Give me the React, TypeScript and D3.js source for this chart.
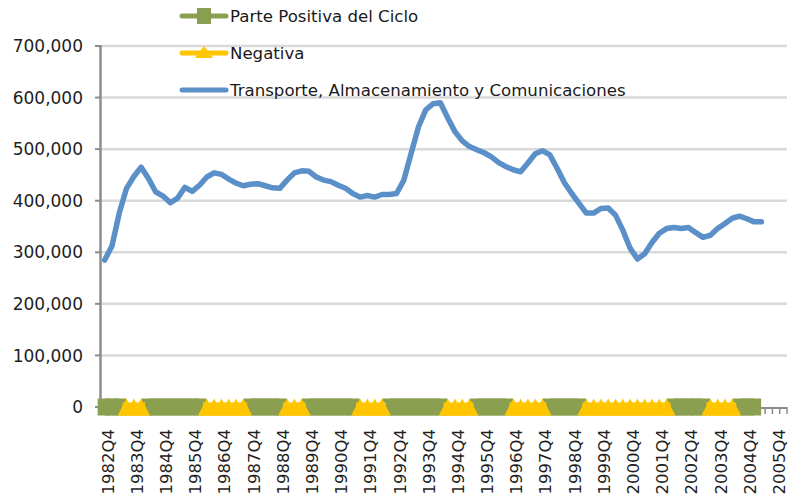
import React, { useEffect, useRef } from 'react';
import * as d3 from 'd3';

// quarters on the category axis: 1982Q4 ... 2006Q1
const startYear = 1982;
const quarterCount = 94;
const categories: string[] = [];
for (let i = 0; i < quarterCount; i++) {
    const q = (3 + i) % 4 + 1;
    const y = startYear + Math.floor((3 + i) / 4);
    categories.push(y + 'Q' + q);
}

const xTickLabels = [
    '1982Q4', '1983Q4', '1984Q4', '1985Q4', '1986Q4', '1987Q4', '1988Q4', '1989Q4',
    '1990Q4', '1991Q4', '1992Q4', '1993Q4', '1994Q4', '1995Q4', '1996Q4', '1997Q4',
    '1998Q4', '1999Q4', '2000Q4', '2001Q4', '2002Q4', '2003Q4', '2004Q4', '2005Q4'
];

const yTicks = [0, 100000, 200000, 300000, 400000, 500000, 600000, 700000];

// Transporte, Almacenamiento y Comunicaciones (thousands)
const transporte = [
    285, 312, 376, 424, 447, 465, 443, 417, 409, 396,
    405, 426, 418, 430, 446, 454, 451, 442, 434, 429,
    432, 433, 429, 425, 424, 440, 454, 458, 457, 446,
    440, 437, 430, 424, 414, 407, 410, 407, 412, 412,
    414, 440, 492, 543, 576, 588, 590, 561, 534, 516,
    505, 499, 493, 485, 474, 466, 460, 456, 473, 491,
    497, 489, 463, 435, 414, 395, 376, 376, 385, 386,
    372, 343, 308, 287, 297, 319, 337, 346, 348, 346,
    348, 338, 329, 333, 346, 356, 366, 370, 365, 359,
    359
].map(function(v) { return v * 1000; });

// phase of the cycle per quarter: P = parte positiva, N = negativa
const fase = [
    'P', 'P', 'P', 'N', 'N', 'N', 'P', 'P', 'P', 'P',
    'P', 'P', 'P', 'P', 'N', 'N', 'N', 'N', 'N', 'N',
    'P', 'P', 'P', 'P', 'P', 'N', 'N', 'N', 'P', 'P',
    'P', 'P', 'P', 'P', 'P', 'N', 'N', 'N', 'N', 'P',
    'P', 'P', 'P', 'P', 'P', 'P', 'P', 'N', 'N', 'N',
    'N', 'P', 'P', 'P', 'P', 'P', 'N', 'N', 'N', 'N',
    'N', 'P', 'P', 'P', 'P', 'P', 'N', 'N', 'N', 'N',
    'N', 'N', 'N', 'N', 'N', 'N', 'N', 'N', 'P', 'P',
    'P', 'P', 'P', 'N', 'N', 'N', 'N', 'P', 'P', 'P'
];

const legendLabels = ['Parte Positiva del Ciclo', 'Negativa', 'Transporte, Almacenamiento y Comunicaciones'];

const green = '#8a9f4f';
const yellow = '#ffc600';
const blue = '#5b8fc8';
const font = '"DejaVu Sans", Verdana, sans-serif';

function Chart() {
    const ref = useRef<SVGSVGElement>(null);

    useEffect(() => {
        const svg = d3.select(ref.current);
        svg.selectAll('*').remove();

        const left = 101, right = 787, top = 46, bottom = 407;

        const x = d3.scaleBand<string>().domain(categories).range([left, right]).padding(0);
        const y = d3.scaleLinear().domain([0, 700000]).range([bottom, top]);
        const bw = x.bandwidth();
        const cx = function(i: number) { return (x(categories[i]) as number) + bw / 2; };

        // gridlines
        svg.append('g').selectAll('line')
            .data(yTicks.filter(function(d) { return d > 0; }))
            .enter().append('line')
            .attr('x1', left).attr('x2', right)
            .attr('y1', function(d) { return y(d); }).attr('y2', function(d) { return y(d); })
            .attr('stroke', '#d9d9d9').attr('stroke-width', 2.5);

        // y axis
        const yAxis = svg.append('g');
        yAxis.append('line')
            .attr('x1', left - 0.5).attr('x2', left - 0.5)
            .attr('y1', top - 1).attr('y2', bottom)
            .attr('stroke', '#8c8c8c').attr('stroke-width', 2.5);
        yAxis.selectAll('line.tick')
            .data(yTicks).enter().append('line')
            .attr('class', 'tick')
            .attr('x1', left - 6).attr('x2', left)
            .attr('y1', function(d) { return y(d); }).attr('y2', function(d) { return y(d); })
            .attr('stroke', '#8c8c8c').attr('stroke-width', 2);
        yAxis.selectAll('text')
            .data(yTicks).enter().append('text')
            .attr('x', 83)
            .attr('y', function(d) { return y(d); })
            .attr('dy', '0.36em')
            .attr('text-anchor', 'end')
            .style('font-family', font).style('font-size', '17px')
            .style('fill', '#1e1e1e')
            .text(function(d) { return d3.format(',')(d); });

        // x axis with a tick at every category boundary
        const xAxis = svg.append('g');
        xAxis.append('line')
            .attr('x1', left).attr('x2', right)
            .attr('y1', bottom + 1).attr('y2', bottom + 1)
            .attr('stroke', '#8c8c8c').attr('stroke-width', 2);
        xAxis.selectAll('line.tick')
            .data(categories.concat(['end'])).enter().append('line')
            .attr('class', 'tick')
            .attr('x1', function(d, i) { return left + i * bw; })
            .attr('x2', function(d, i) { return left + i * bw; })
            .attr('y1', bottom).attr('y2', bottom + 7)
            .attr('stroke', '#8c8c8c').attr('stroke-width', 1.5);
        xAxis.selectAll('text')
            .data(xTickLabels).enter().append('text')
            .attr('transform', function(d) {
                const i = categories.indexOf(d);
                return 'translate(' + (cx(i) + 3) + ',429) rotate(-90)';
            })
            .attr('dy', '0.36em')
            .attr('text-anchor', 'end')
            .style('font-family', font).style('font-size', '16.5px')
            .style('fill', '#1e1e1e')
            .text(function(d) { return d; });

        // ciclo: positive quarters as green squares on the zero line
        const band = svg.append('g');
        const y0 = y(0);
        band.selectAll('rect.pos')
            .data(fase.map(function(f, i) { return { f: f, i: i }; }).filter(function(d) { return d.f === 'P'; }))
            .enter().append('rect')
            .attr('class', 'pos')
            .attr('x', function(d) { return cx(d.i) - 7; })
            .attr('width', 14)
            .attr('y', y0 - 8.5).attr('height', 17)
            .attr('fill', green);

        // negative quarters: thick yellow line + triangle markers
        const neg = fase.map(function(f, i) { return { f: f, i: i }; }).filter(function(d) { return d.f === 'N'; });
        band.selectAll('rect.neg')
            .data(neg)
            .enter().append('rect')
            .attr('class', 'neg')
            .attr('x', function(d) { return cx(d.i) - bw / 2 - 0.3; })
            .attr('width', bw + 0.6)
            .attr('y', y0 - 4.5).attr('height', 13)
            .attr('fill', yellow);
        band.selectAll('path.tri')
            .data(neg)
            .enter().append('path')
            .attr('class', 'tri')
            .attr('d', function(d) {
                const c = cx(d.i);
                return 'M' + c + ',' + (y0 - 8.5) + 'L' + (c + 9) + ',' + (y0 + 8.5) + 'L' + (c - 9) + ',' + (y0 + 8.5) + 'Z';
            })
            .attr('fill', yellow);

        // line series
        const line = d3.line<number>()
            .x(function(d, i) { return cx(i); })
            .y(function(d) { return y(d); });
        svg.append('path')
            .datum(transporte)
            .attr('d', line)
            .attr('fill', 'none')
            .attr('stroke', blue)
            .attr('stroke-width', 5.5)
            .attr('stroke-linejoin', 'round')
            .attr('stroke-linecap', 'round');

        // legend
        const legendY = [16, 53, 90];
        const legend = svg.append('g');
        const colors = [green, yellow, blue];
        legendLabels.forEach(function(label, i) {
            const g = legend.append('g').attr('transform', 'translate(0,' + legendY[i] + ')');
            g.append('line')
                .attr('x1', 182).attr('x2', 226)
                .attr('y1', 0).attr('y2', 0)
                .attr('stroke', colors[i]).attr('stroke-width', 5)
                .attr('stroke-linecap', 'round');
            if (i === 0) {
                g.append('rect').attr('x', 197).attr('y', -8).attr('width', 14).attr('height', 16).attr('fill', green);
            }
            if (i === 1) {
                g.append('path').attr('d', 'M204,-7L213,5L195,5Z').attr('fill', yellow);
            }
            g.append('text')
                .attr('x', 230).attr('y', 0).attr('dy', '0.36em')
                .style('font-family', font).style('font-size', '16.6px')
                .style('fill', '#1a1a1a')
                .text(label);
        });
    }, []);

    return <svg ref={ref} width={788} height={500} style={{ display: 'block', background: '#fff' }}></svg>;
}

export default function App() {
    return (
        <div style={{ position: 'absolute', left: 0, top: 0 }}>
            <Chart />
        </div>
    );
}
